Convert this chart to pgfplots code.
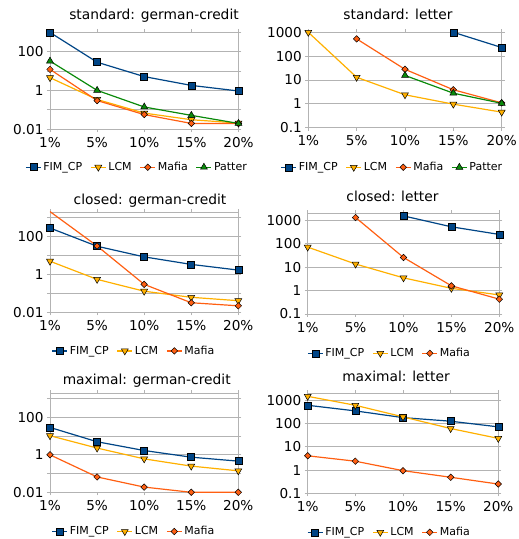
\documentclass[border=0pt]{standalone}
\usepackage{fontspec}
\setmainfont{DejaVu Sans}
\usepackage{pgfplots}
\pgfplotsset{compat=1.18}
\definecolor{fimc}{HTML}{004586}
\definecolor{lcmc}{HTML}{FFB000}
\definecolor{mafc}{HTML}{FF5F12}
\definecolor{patc}{HTML}{0A8A0A}
\definecolor{gridc}{HTML}{B3B3B3}
\pgfplotsset{
  mypanel/.style={
    scale only axis, anchor=south west,
    xmin=0, xmax=4, xtick={0,1,2,3,4},
    xticklabels={1\%,5\%,10\%,15\%,20\%},
    axis line style={draw=gridc, line width=0.8pt},
    ymajorgrids, grid style={gridc, line width=0.7pt},
    tick style={gridc, line width=0.8pt},
    tick align=outside, major tick length=3pt,
    yminorticks=false, xminorticks=false,
    /pgf/number format/assume math mode=true,
    ticklabel style={font=\fontsize{13.6}{14}\selectfont},
    xticklabel style={yshift=-1.5pt},
    legend style={draw=none, fill=none, font=\fontsize{11}{12}\selectfont,
      legend columns=-1, anchor=center, inner sep=0pt,
      /tikz/every even column/.append style={column sep=6pt}},
    legend image code/.code={\draw[mark repeat=2,mark phase=2] plot coordinates {(0pt,0pt) (7.5pt,0pt) (15pt,0pt)};},
  },
  gcy/.style={ytick={0.01,0.1,1,10,100,1000}, yticklabels={0.01,,1,,100,}, ymin=0.01},
  lty/.style={ytick={0.1,1,10,100,1000}, yticklabels={0.1,1,10,100,1000}, ymin=0.1},
  fim/.style={color=fimc, line width=1.2pt, mark=square*, mark size=3.5pt, mark options={fill=fimc, draw=black, line width=0.5pt}},
  lcm/.style={color=lcmc, line width=1.2pt, mark=triangle*, mark size=4pt, mark options={fill=lcmc, draw=black, line width=0.5pt, rotate=180}},
  maf/.style={color=mafc, line width=1.2pt, mark=square*, mark size=2.3pt, mark options={fill=mafc, draw=black, line width=0.5pt, rotate=45}},
  pat/.style={color=patc, line width=1.2pt, mark=triangle*, mark size=4pt, mark options={fill=patc, draw=black, line width=0.5pt}},
}
\begin{document}
\begin{tikzpicture}
\useasboundingbox (0,0) rectangle (519pt,539pt);
\tikzset{ttl/.style={font=\fontsize{13.8}{14}\selectfont, anchor=center}}
% Panel 1
\begin{semilogyaxis}[mypanel, gcy, ymax=1000, at={(50pt,409.7pt)}, width=188.5pt, height=97.3pt,
  legend style={at={(0.4615,-0.39)}}]
\addplot[fim] coordinates {(0,950) (1,28) (2,5.1) (3,1.8) (4,0.93)};
\addplot[lcm] coordinates {(0,4.5) (1,0.34) (2,0.068) (3,0.031) (4,0.021)};
\addplot[maf] coordinates {(0,12) (1,0.3) (2,0.057) (3,0.02) (4,0.02)};
\addplot[pat] coordinates {(0,32) (1,1.0) (2,0.14) (3,0.052) (4,0.02)};
\legend{FIM\_CP,LCM,Mafia,Patter}
\end{semilogyaxis}
\node[ttl] at (154pt,523.3pt) {standard: german-credit};
% Panel 2
\begin{semilogyaxis}[mypanel, lty, ymax=1000, at={(308.3pt,411.3pt)}, width=193.4pt, height=95.4pt,
  legend style={at={(0.435,-0.415)}}]
\addplot[fim] coordinates {(3,1000) (4,230)};
\addplot[lcm] coordinates {(0,1000) (1,13) (2,2.4) (3,0.97) (4,0.45)};
\addplot[maf] coordinates {(1,530) (2,28) (3,3.9) (4,1.1)};
\addplot[pat] coordinates {(2,15.5) (3,2.8) (4,1.05)};
\legend{FIM\_CP,LCM,Mafia,Patter}
\end{semilogyaxis}
\node[ttl] at (398pt,525pt) {standard: letter};
% Panel 3
\begin{semilogyaxis}[mypanel, gcy, ymax=2000, at={(50pt,226.7pt)}, width=188.3pt, height=100.3pt,
  legend style={at={(0.446,-0.385)}}]
\addplot[fim] coordinates {(0,285) (1,31) (2,8.5) (3,3.4) (4,1.7)};
\addplot[lcm] coordinates {(0,5) (1,0.55) (2,0.13) (3,0.062) (4,0.041)};
\addplot[maf] coordinates {(1,32) (2,0.3) (3,0.032) (4,0.022)};
\addplot[maf, no markers, forget plot] coordinates {(0,2100) (1,32)};
\legend{FIM\_CP,LCM,Mafia}
\end{semilogyaxis}
\node[ttl] at (150pt,338.3pt) {closed: german-credit};
% Panel 4
\begin{semilogyaxis}[mypanel, lty, ymax=2000, at={(307.7pt,225pt)}, width=191.6pt, height=100.7pt,
  legend style={at={(0.427,-0.39)}}]
\addplot[fim] coordinates {(2,1550) (3,530) (4,250)};
\addplot[lcm] coordinates {(0,72) (1,13.6) (2,3.5) (3,1.25) (4,0.65)};
\addplot[maf] coordinates {(1,1320) (2,26) (3,1.6) (4,0.43)};
\legend{FIM\_CP,LCM,Mafia}
\end{semilogyaxis}
\node[ttl] at (392.5pt,342.3pt) {closed: letter};
% Panel 5
\begin{semilogyaxis}[mypanel, gcy, ymax=2000, at={(50pt,46.7pt)}, width=188.3pt, height=99.3pt,
  legend style={at={(0.446,-0.395)}}]
\addplot[fim] coordinates {(0,29) (1,5) (2,1.7) (3,0.75) (4,0.46)};
\addplot[lcm] coordinates {(0,10.5) (1,2.3) (2,0.61) (3,0.25) (4,0.14)};
\addplot[maf] coordinates {(0,1) (1,0.066) (2,0.019) (3,0.01) (4,0.01)};
\legend{FIM\_CP,LCM,Mafia}
\end{semilogyaxis}
\node[ttl] at (146.7pt,158.3pt) {maximal: german-credit};
% Panel 6
\begin{semilogyaxis}[mypanel, lty, ymax=2000, at={(307.7pt,45.7pt)}, width=190.6pt, height=100pt,
  legend style={at={(0.429,-0.39)}}]
\addplot[fim] coordinates {(0,610) (1,350) (2,180) (3,126) (4,72)};
\addplot[lcm] coordinates {(0,1480) (1,610) (2,194) (3,61) (4,23)};
\addplot[maf] coordinates {(0,4.1) (1,2.4) (2,0.94) (3,0.49) (4,0.25)};
\legend{FIM\_CP,LCM,Mafia}
\end{semilogyaxis}
\node[ttl] at (396pt,162.3pt) {maximal: letter};
\end{tikzpicture}
\end{document}
